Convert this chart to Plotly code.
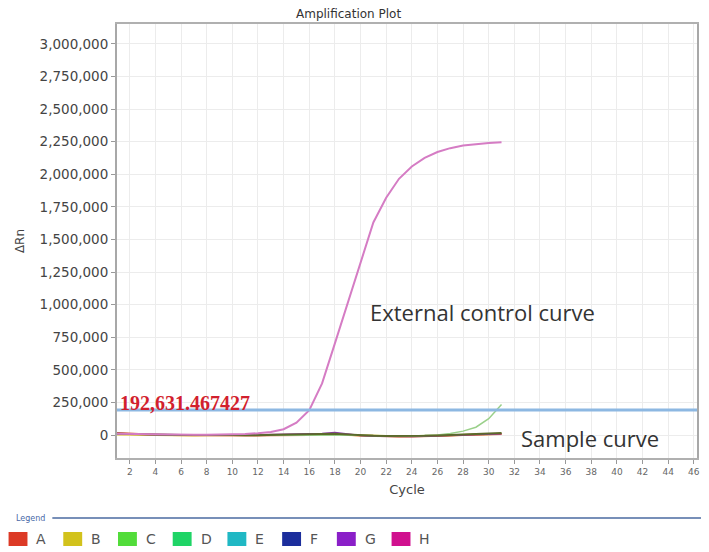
import plotly.graph_objs as go

# cycles 1..31 (run stopped at cycle 31)
cycles = list(range(1, 32))

# external control well (pink)
control_curve = [10000, 8000, 6000, 4000, 3000, 2000, 2000, 3000, 4000, 5000, 8000, 14000, 24000, 45000,
                 95000, 190000, 396000, 703000, 1010000, 1320000, 1630000, 1820000, 1965000, 2060000,
                 2125000, 2170000, 2200000, 2220000, 2232000, 2240000, 2245000]

# late-rising sample well (light green)
late_curve = [8000, 6000, 4000, 2000, 1000, 0, 0, 0, -1000, -2000, -3000, -4000, -3000, -2000, -1000, 0,
              1000, 2000, 1000, -2000, -5000, -7000, -8000, -7000, -4000, 0, 12000, 30000, 60000, 125000,
              235000]

# flat sample wells
well_a = [15000, 10000, 6000, 3000, 1000, 0, -1000, -1000, -2000, -3000, -6000, -4000, -1000, 0, 2000,
          3000, 4000, 6000, 2000, -4000, -8000, -10000, -11000, -11000, -10000, -7000, -4000, 0, 3000,
          6000, 8000]
well_b = [5000, 3000, 1000, -1000, -2000, -3000, -3000, -2000, -1000, -2000, -4000, -2000, 0, 2000, 3000,
          3000, 2000, 4000, 1000, -3000, -6000, -8000, -9000, -9000, -8000, -5000, -2000, 1000, 4000,
          7000, 9000]
well_d = [10000, 7000, 4000, 2000, 1000, 0, 0, 1000, 1000, 0, -2000, 0, 3000, 5000, 6000, 6000, 7000,
          9000, 4000, -2000, -6000, -8000, -9000, -8000, -6000, -3000, 1000, 5000, 9000, 12000, 15000]
well_g = [12000, 8000, 4000, 1000, 0, -1000, -1000, 0, 0, -1000, -2000, 0, 4000, 6000, 7000, 8000,
          12000, 20000, 8000, -3000, -9000, -11000, -12000, -11000, -9000, -6000, -2000, 2000, 5000,
          8000, 10000]

threshold = 192631.467427

legend_names = ["A", "B", "C", "D", "E", "F", "G", "H"]
legend_colors = ["#dc3a26", "#d2c21c", "#52dc3a", "#1fd466", "#20b8c4", "#1c2e9c", "#8a1fc8", "#d0108e"]

x_ticks = list(range(2, 47, 2))
y_ticks = list(range(0, 3000001, 250000))


def px(x):
    # reference pixel -> paper x
    return (x - 117) / 583.0


def py(y):
    # reference pixel -> paper y
    return (458 - y) / 434.0


traces = [
    go.Scatter(x=cycles, y=well_b, mode="lines", line=dict(color="#e2c43a", width=2)),
    go.Scatter(x=cycles, y=well_a, mode="lines", line=dict(color="#d8602e", width=2)),
    go.Scatter(x=cycles, y=well_g, mode="lines", line=dict(color="#8a3aa8", width=1.5)),
    go.Scatter(x=cycles, y=late_curve, mode="lines", line=dict(color="#9ad08a", width=1.5)),
    go.Scatter(x=cycles, y=well_d, mode="lines", line=dict(color="#5c6a2c", width=2)),
    go.Scatter(x=cycles, y=control_curve, mode="lines", line=dict(color="#d57cc4", width=2)),
]

fig = go.Figure(data=traces)

fig.add_hline(y=threshold, line=dict(color="#8db8e2", width=3), layer="above")

# page body has an 8px margin, so the figure is 8px smaller than the window
fig.update_layout(
    width=701, height=544,
    margin=dict(l=109, r=9, t=16, b=94),
    paper_bgcolor="white", plot_bgcolor="white",
    showlegend=False,
    font=dict(family="DejaVu Sans", color="#444"),
)

fig.update_xaxes(
    range=[1, 46.25], tickvals=x_ticks, ticks="outside", ticklen=4, tickcolor="#999",
    tickfont=dict(size=9, color="#666"),
    showgrid=True, gridcolor="#ececec", gridwidth=1,
    showline=True, linecolor="#b0b0b0", linewidth=1.5, mirror=True, zeroline=False,
    title=dict(text="Cycle", font=dict(size=13, color="#444"), standoff=9),
)
fig.update_yaxes(
    range=[-176000, 3152000], tickvals=y_ticks, tickformat=",d", ticks="outside", ticklen=4,
    tickcolor="#999", tickfont=dict(size=13.5, color="#444"),
    showgrid=True, gridcolor="#ececec", gridwidth=1,
    showline=True, linecolor="#a8a8a8", linewidth=2, mirror=True, zeroline=False,
    title=dict(text="ΔRn", font=dict(size=12, color="#444"), standoff=12),
)

anns = [
    dict(text="Amplification Plot", x=px(350), y=py(14.5), font=dict(size=12, color="#333")),
    dict(text="External control curve", x=px(484), y=py(312),
         font=dict(family="Open Sans", size=22, color="#333")),
    dict(text="Sample curve", x=px(592), y=py(438), font=dict(family="Open Sans", size=22, color="#333")),
    dict(text="<b>192,631.467427</b>", x=px(118), y=py(403), xanchor="left",
         font=dict(family="Liberation Serif", size=20, color="#d21f2e")),
    dict(text="Legend", x=px(13), y=py(518), xanchor="left", font=dict(size=8, color="#4a6aa8")),
]
for a in anns:
    a.setdefault("xanchor", "center")
    fig.add_annotation(xref="paper", yref="paper", yanchor="middle", showarrow=False, **a)

# legend strip drawn underneath the plot
fig.add_shape(type="line", xref="paper", yref="paper", x0=px(52), x1=px(704), y0=py(518), y1=py(518),
              line=dict(color="#4a6aa0", width=1.5))
for i, (name, color) in enumerate(zip(legend_names, legend_colors)):
    x0 = 8 + i * 55
    fig.add_shape(type="rect", xref="paper", yref="paper", x0=px(x0), x1=px(x0 + 19),
                  y0=py(546), y1=py(532), fillcolor=color, line=dict(width=0))
    fig.add_annotation(xref="paper", yref="paper", x=px(x0 + 26), y=py(539), text=name,
                       xanchor="left", yanchor="middle", showarrow=False,
                       font=dict(size=14, color="#555"))

fig.write_html("out.html")
